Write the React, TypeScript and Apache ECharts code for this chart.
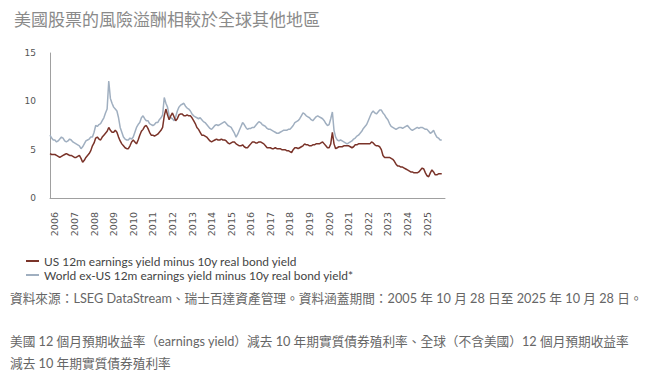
import React, { useEffect, useRef } from 'react';
import * as echarts from 'echarts';

const TITLE = '美國股票的風險溢酬相較於全球其他地區';
const US_NAME = 'US 12m earnings yield minus 10y real bond yield';
const WORLD_NAME = 'World ex-US 12m earnings yield minus 10y real bond yield*';
const SOURCE_NOTE = '資料來源：LSEG DataStream、瑞士百達資產管理。資料涵蓋期間：2005 年 10 月 28 日至 2025 年 10 月 28 日。';
const DEF_LINE_1 = '美國 12 個月預期收益率（earnings yield）減去 10 年期實質債券殖利率、全球（不含美國）12 個月預期收益率';
const DEF_LINE_2 = '減去 10 年期實質債券殖利率';

// monthly observations, Oct 2005 .. Oct 2025
const START_YEAR = 2005;
const START_MONTH = 10;
const TRAILING_MONTHS = 2;

const usYield: number[] = [
  4.6, 4.5, 4.5, // 2005
  4.5, 4.4, 4.3, 4.2, 4.3, 4.4, 4.5, 4.6, 4.5, 4.4, 4.4, 4.3, // 2006
  4.2, 4.2, 4.3, 4.4, 4.1, 3.7, 3.9, 4.2, 4.4, 4.6, 4.9, 5.4, // 2007
  5.7, 6.2, 6.3, 6.1, 6.0, 6.3, 6.5, 6.7, 6.9, 7.3, 7.0, 6.8, // 2008
  6.8, 7.0, 6.8, 6.3, 5.9, 5.6, 5.4, 5.2, 5.1, 5.1, 5.4, 5.8, // 2009
  6.0, 5.8, 5.6, 6.0, 6.5, 6.9, 7.1, 7.4, 7.5, 7.2, 6.8, 6.5, // 2010
  6.5, 6.4, 6.5, 6.6, 6.8, 7.0, 7.3, 8.5, 9.2, 8.6, 8.1, 8.5, // 2011
  8.8, 8.4, 8.0, 8.2, 8.6, 8.7, 8.7, 8.5, 8.5, 8.6, 8.5, 8.5, // 2012
  8.3, 8.0, 7.7, 7.3, 7.1, 6.8, 6.5, 6.5, 6.4, 6.3, 6.1, 5.9, // 2013
  5.8, 5.9, 6.0, 6.1, 6.0, 6.0, 6.1, 6.0, 6.0, 5.9, 5.7, 5.6, // 2014
  5.7, 5.8, 5.8, 5.6, 5.5, 5.4, 5.4, 5.5, 5.3, 5.2, 5.2, 5.4, // 2015
  5.6, 5.8, 5.8, 5.7, 5.7, 5.8, 5.8, 5.7, 5.6, 5.4, 5.2, 5.2, // 2016
  5.2, 5.1, 5.1, 5.2, 5.1, 5.1, 5.1, 5.0, 5.0, 5.0, 4.9, 4.9, // 2017
  4.8, 4.7, 5.0, 5.2, 5.2, 5.1, 5.2, 5.3, 5.4, 5.6, 5.5, 5.5, // 2018
  5.4, 5.4, 5.5, 5.5, 5.6, 5.6, 5.6, 5.7, 5.8, 5.6, 5.4, 5.2, // 2019
  5.2, 5.6, 6.8, 5.6, 5.1, 5.2, 5.3, 5.3, 5.3, 5.4, 5.4, 5.4, // 2020
  5.4, 5.3, 5.2, 5.3, 5.5, 5.5, 5.6, 5.6, 5.6, 5.6, 5.6, 5.6, // 2021
  5.6, 5.6, 5.8, 5.7, 5.5, 5.4, 5.4, 5.3, 5.0, 4.4, 4.2, 4.2, // 2022
  4.2, 4.2, 4.1, 4.0, 3.8, 3.5, 3.3, 3.3, 3.2, 3.2, 3.1, 3.0, // 2023
  2.9, 2.8, 2.7, 2.7, 2.6, 2.6, 2.6, 2.7, 2.9, 3.1, 3.0, 2.6, // 2024
  2.3, 2.2, 2.6, 2.9, 2.7, 2.4, 2.4, 2.5, 2.5, 2.5, // 2025
];

const worldYield: number[] = [
  6.5, 6.2, 6.0, // 2005
  6.0, 5.8, 5.9, 6.1, 6.3, 6.2, 5.9, 5.8, 5.9, 6.1, 6.0, 5.8, // 2006
  5.7, 5.6, 5.5, 5.4, 5.1, 5.3, 5.6, 5.9, 6.0, 6.1, 6.3, 6.3, // 2007
  6.8, 7.5, 7.4, 7.6, 7.7, 8.0, 8.3, 8.8, 9.2, 12.1, 10.3, 9.8, // 2008
  9.4, 9.2, 9.0, 8.3, 7.3, 6.8, 6.3, 6.1, 6.0, 6.0, 6.2, 6.1, // 2009
  6.3, 6.8, 7.3, 7.6, 7.8, 8.3, 8.5, 8.2, 8.0, 8.0, 7.7, 7.6, // 2010
  7.5, 7.6, 7.8, 7.8, 8.1, 8.3, 8.6, 10.4, 9.8, 9.4, 8.5, 8.3, // 2011
  8.2, 8.0, 8.4, 9.0, 9.4, 9.6, 9.7, 9.8, 9.5, 9.3, 9.2, 9.0, // 2012
  8.7, 8.5, 8.4, 8.3, 8.2, 8.3, 8.1, 7.9, 7.8, 7.6, 7.4, 7.2, // 2013
  7.1, 7.3, 7.5, 7.6, 7.5, 7.6, 7.7, 7.8, 7.9, 7.7, 7.5, 7.4, // 2014
  7.3, 7.0, 6.7, 6.3, 6.6, 7.0, 7.4, 7.8, 7.6, 7.3, 7.1, 7.2, // 2015
  7.2, 7.3, 7.3, 7.5, 7.7, 7.9, 7.8, 7.6, 7.5, 7.4, 7.2, 7.1, // 2016
  7.1, 7.0, 6.9, 6.8, 6.7, 6.7, 6.8, 6.9, 7.0, 7.0, 7.0, 7.1, // 2017
  7.1, 7.3, 7.5, 7.8, 7.9, 8.0, 8.2, 8.5, 8.8, 8.7, 8.5, 8.4, // 2018
  8.3, 8.1, 8.0, 8.2, 8.4, 8.5, 8.4, 8.3, 8.2, 8.0, 7.7, 7.5, // 2019
  7.6, 8.2, 8.9, 7.0, 6.3, 6.0, 5.9, 6.0, 5.9, 5.8, 5.7, 5.6, // 2020
  5.7, 5.8, 5.9, 6.1, 6.2, 6.4, 6.5, 6.7, 6.9, 7.2, 7.4, 7.6, // 2021
  8.0, 8.4, 8.8, 9.0, 8.8, 8.7, 8.9, 9.1, 9.1, 8.8, 8.6, 8.3, // 2022
  8.1, 7.7, 7.4, 7.3, 7.2, 7.1, 7.2, 7.3, 7.3, 7.2, 7.3, 7.4, // 2023
  7.5, 7.3, 7.1, 7.0, 7.1, 7.2, 7.3, 7.2, 7.3, 7.3, 7.2, 7.1, // 2024
  7.1, 6.9, 6.7, 6.8, 7.0, 6.6, 6.3, 6.2, 6.0, 6.0, // 2025
];

const Y_MIN = 0;
const Y_MAX = 15;
const Y_STEP = 5;

function buildMonths(count: number): string[] {
  const out: string[] = [];
  let y = START_YEAR;
  let m = START_MONTH;
  for (let i = 0; i < count; i++) {
    out.push(`${y}-${m < 10 ? '0' + m : m}`);
    m++;
    if (m > 12) { m = 1; y++; }
  }
  return out;
}

export default function App() {
  const ref = useRef<HTMLDivElement>(null);
  useEffect(() => {
    document.body.style.margin = '0';
    if (!ref.current) return;
    const chart = echarts.init(ref.current, undefined, { renderer: 'svg' });
    const months = buildMonths(usYield.length + TRAILING_MONTHS);
    const cjk = '"Noto Sans CJK TC", "Noto Sans", sans-serif';
    const note = 'Lato, "Noto Sans CJK TC", sans-serif';
    chart.setOption({
      animation: false,
      backgroundColor: '#ffffff',
      title: {
        text: TITLE,
        left: 9,
        top: 5,
        textStyle: { fontFamily: cjk, fontSize: 17, fontWeight: 'normal', color: '#8a8a8a' },
      },
      legend: {
        orient: 'vertical',
        left: 21,
        top: 249,
        icon: 'rect',
        itemWidth: 13,
        itemHeight: 2,
        itemGap: 0,
        data: [US_NAME, WORLD_NAME],
        textStyle: { fontFamily: 'Lato, sans-serif', fontSize: 11.9, color: '#444', lineHeight: 14 },
      },
      grid: { left: 50, right: 211, top: 53, bottom: 178, containLabel: false },
      xAxis: {
        type: 'category',
        data: months,
        boundaryGap: false,
        axisLine: { lineStyle: { color: '#a0a0a0', width: 1 } },
        axisTick: { show: false },
        splitLine: { show: false },
        axisLabel: {
          rotate: 90,
          margin: 14,
          fontFamily: 'DejaVu Sans, sans-serif',
          fontSize: 9.5,
          color: '#555',
          interval: (_i: number, v: string) => v.endsWith('-01'),
          formatter: (v: string) => v.slice(0, 4),
        },
      },
      yAxis: {
        type: 'value',
        min: Y_MIN,
        max: Y_MAX,
        interval: Y_STEP,
        axisLine: { show: true, lineStyle: { color: '#a0a0a0', width: 1 } },
        axisTick: { show: false },
        splitLine: { show: false },
        axisLabel: { margin: 14, fontFamily: 'DejaVu Sans, sans-serif', fontSize: 9, color: '#555' },
      },
      series: [
        {
          name: WORLD_NAME,
          type: 'line',
          data: worldYield,
          symbol: 'none',
          lineStyle: { color: '#a0afc0', width: 1.5 },
          itemStyle: { color: '#a0afc0' },
        },
        {
          name: US_NAME,
          type: 'line',
          data: usYield,
          symbol: 'none',
          lineStyle: { color: '#7a3329', width: 1.5 },
          itemStyle: { color: '#7a3329' },
        },
      ],
      graphic: [
        { type: 'text', left: 10, top: 292, style: { text: SOURCE_NOTE, font: `12.7px ${note}`, fill: '#666' } },
        { type: 'text', left: 10, top: 335, style: { text: DEF_LINE_1, font: `12.7px ${note}`, fill: '#666' } },
        { type: 'text', left: 10, top: 357, style: { text: DEF_LINE_2, font: `12.7px ${note}`, fill: '#666' } },
      ],
    });
    return () => chart.dispose();
  }, []);
  return <div ref={ref} style={{ width: 656, height: 376 }} />;
}
